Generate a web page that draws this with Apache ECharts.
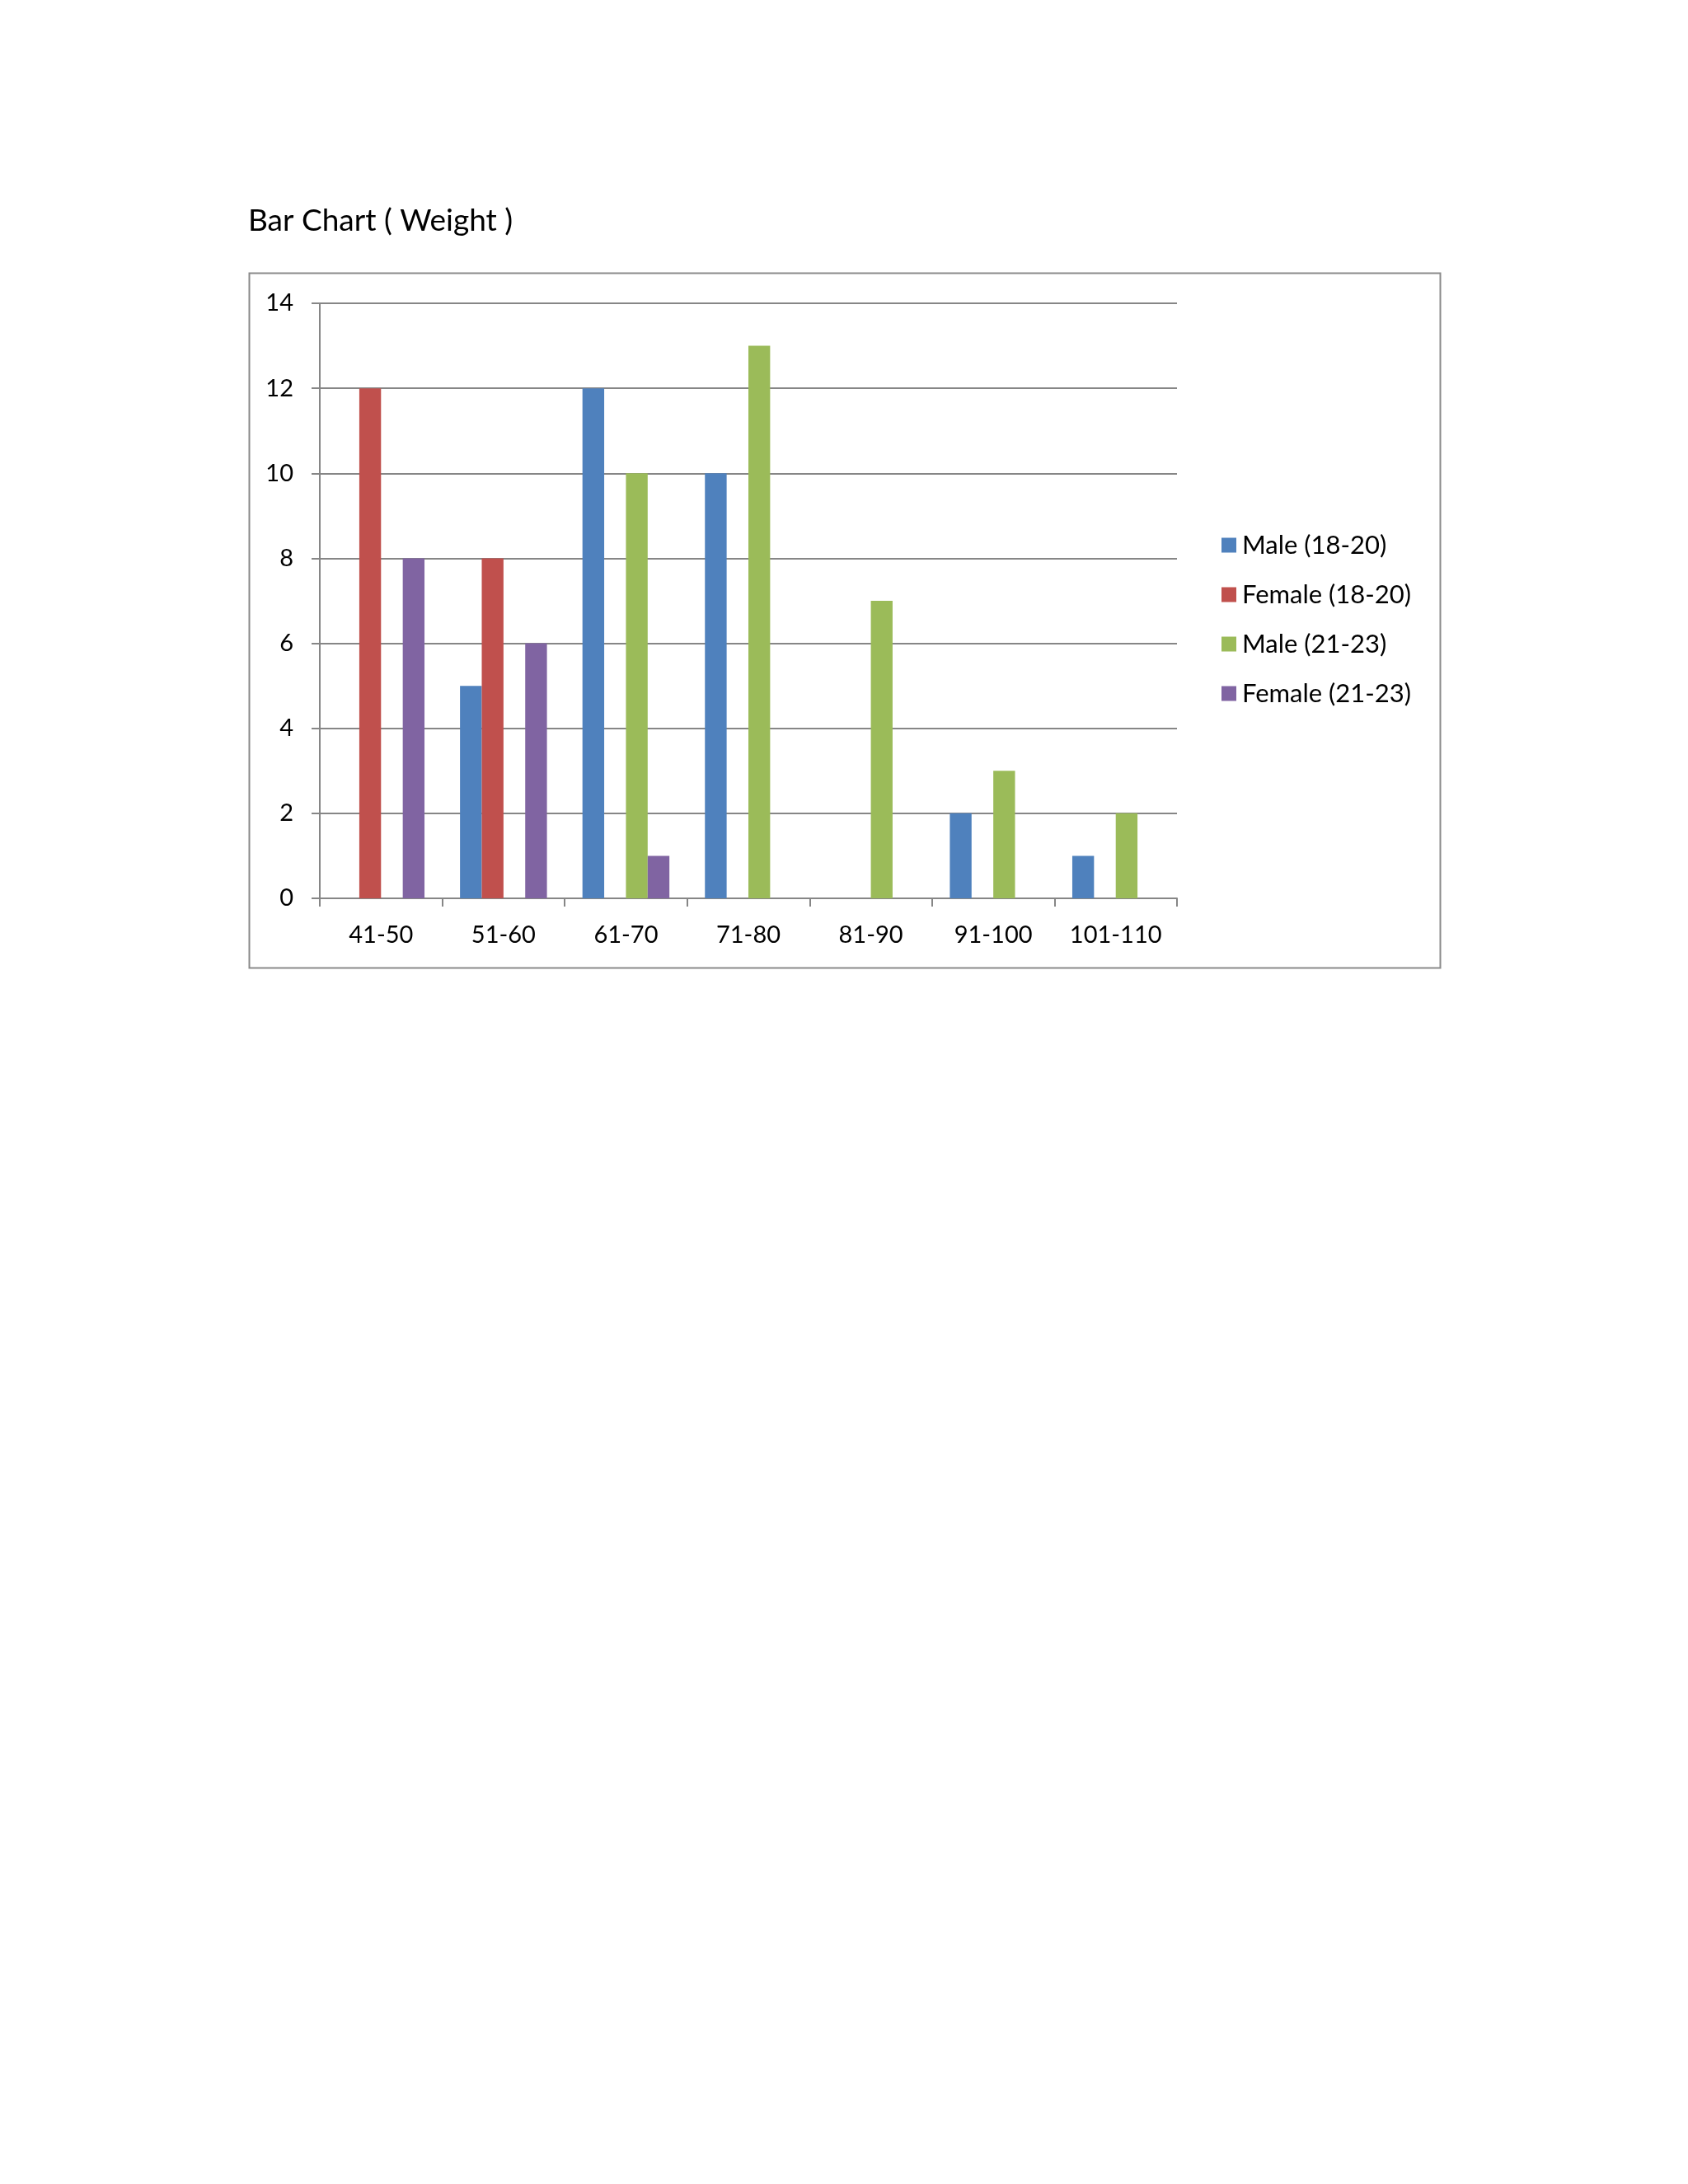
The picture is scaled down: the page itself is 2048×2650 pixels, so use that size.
<!DOCTYPE html>
<html>
<head>
<meta charset="utf-8">
<script src="https://cdn.jsdelivr.net/npm/echarts@6/dist/echarts.min.js"></script>
<style>
html,body{margin:0;padding:0;background:#ffffff;}
#chart{width:2048px;height:2650px;}
</style>
</head>
<body>
<div id="chart"></div>
<script>
const categories = ['41-50','51-60','61-70','71-80','81-90','91-100','101-110'];
const seriesNames = ['Male (18-20)','Female (18-20)','Male (21-23)','Female (21-23)'];
const male1820   = [0, 5, 12, 10, 0, 2, 1];
const female1820 = [12, 8, 0, 0, 0, 0, 0];
const male2123   = [0, 0, 10, 13, 7, 3, 2];
const female2123 = [8, 6, 1, 0, 0, 0, 0];
const colors = ['#4F81BD','#C0504D','#9BBB59','#8064A2'];

const chart = echarts.init(document.getElementById('chart'), null, {renderer:'canvas'});
const FONT = 'Lato, Carlito, Calibri, sans-serif';
const dataSets = [male1820, female1820, male2123, female2123];

chart.setOption({
  backgroundColor: '#ffffff',
  animation: false,
  color: colors,
  textStyle: {fontFamily: FONT},
  title: {
    text: 'Bar Chart ( Weight )',
    left: 296, top: 245,
    textStyle: {fontFamily: FONT, fontSize: 37, fontWeight: 'normal', color: '#000'}
  },
  graphic: [{
    type: 'rect', left: 300, top: 329, z: -1,
    shape: {width: 1445, height: 843},
    style: {fill: 'none', stroke: '#8a8a8a', lineWidth: 2}
  }],
  legend: {
    orient: 'vertical', left: 1477, top: 641,
    itemWidth: 18, itemHeight: 18, itemGap: 29,
    icon: 'rect',
    textStyle: {fontFamily: FONT, fontSize: 31, color: '#000', lineHeight: 31, padding: [0,0,0,2]},
    data: seriesNames
  },
  grid: {left: 388, right: 620, top: 368, bottom: 1560, containLabel: false},
  xAxis: {
    type: 'category', data: categories,
    axisLine: {lineStyle: {color: '#868686', width: 2}},
    axisTick: {show: true, length: 10, lineStyle: {color: '#868686', width: 2}},
    axisLabel: {fontFamily: FONT, fontSize: 29, color: '#000', margin: 30}
  },
  yAxis: {
    type: 'value', min: 0, max: 14, interval: 2,
    axisLine: {show: true, lineStyle: {color: '#868686', width: 2}},
    axisTick: {show: true, length: 10, lineStyle: {color: '#868686', width: 2}},
    splitLine: {show: true, lineStyle: {color: '#868686', width: 2}},
    axisLabel: {fontFamily: FONT, fontSize: 29, color: '#000', margin: 32}
  },
  series: seriesNames.map((n, i) => ({
    name: n, type: 'bar', data: dataSets[i],
    barGap: '0%', barCategoryGap: '29%'
  }))
});
</script>
</body>
</html>
